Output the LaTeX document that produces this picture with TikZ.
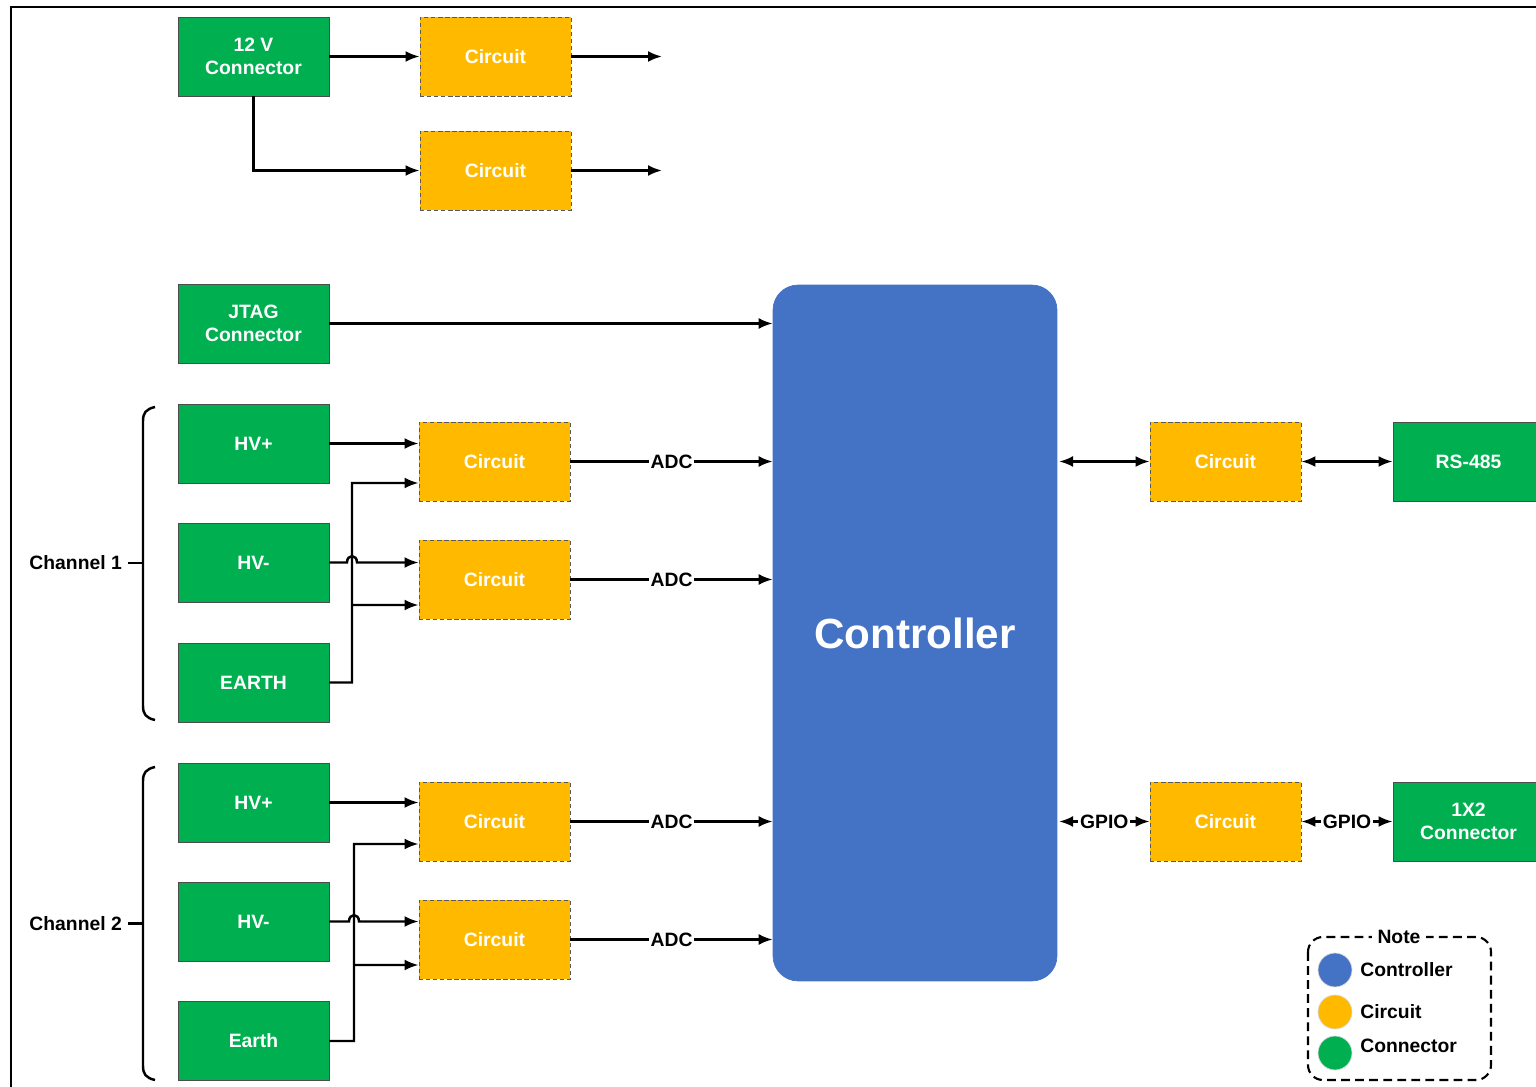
\documentclass[tikz,border=0pt]{standalone}
\usepackage{fontspec}
\setmainfont{Liberation Sans}
\usepackage{xcolor}
\usepackage{tikz}
\usetikzlibrary{positioning,calc,arrows.meta}

\definecolor{congreen}{HTML}{00B050}
\definecolor{cirgold}{HTML}{FFBA00}
\definecolor{ctrlblue}{HTML}{4472C4}

\begin{document}
\begin{tikzpicture}[x=0.02cm, y=-0.02cm]

\tikzstyle{every node}=[font=\fontsize{11}{13}\selectfont\bfseries]
\tikzstyle{conn}=[draw=black!70, line width=0.5pt, fill=congreen, text=white, minimum width=3.02cm, minimum height=1.58cm, align=center, inner sep=0]
\tikzstyle{circ}=[draw=black!65, dash pattern=on 2.5pt off 1.5pt, line width=0.5pt, fill=cirgold, text=white, minimum width=3.02cm, minimum height=1.58cm, inner sep=0]
\tikzstyle{arr}=[-{Latex[length=2.8mm,width=2.2mm]}, line width=1.4pt]
\tikzstyle{darr}=[{Latex[length=2.8mm,width=2.2mm]}-{Latex[length=2.8mm,width=2.2mm]}, line width=1.4pt]
\tikzstyle{lbl}=[fill=white, inner sep=1pt]

\clip (0,0) rectangle (1536,1087);

% frame %
\draw[line width=1.4pt] (11,1100) -- (11,7) -- (1550,7);

% nodes %
\node[conn] (v12) at (253.5,56.5) {12 V\\Connector};
\node[circ] (ct1) at (495.5,56.5) {Circuit};
\node[circ] (ct2) at (495.5,170.5) {Circuit};
\coordinate (o1) at (662,56.5);
\coordinate (o2) at (662,170.5);

\node[conn] (jtag) at (253.5,323.5) {JTAG\\Connector};

\node[draw=ctrlblue, fill=ctrlblue, rounded corners=0.5cm, minimum width=5.68cm, minimum height=13.92cm, text=white, font=\fontsize{24}{28}\selectfont\bfseries] (ctrl) at (915,633) {Controller};

\node[conn] (hvp1) at (253.5,443.5) {HV+};
\node[conn] (hvm1) at (253.5,562.5) {HV-};
\node[conn] (earth1) at (253.5,682.5) {EARTH};
\node[circ] (ca1) at (494.5,461.5) {Circuit};
\node[circ] (cb1) at (494.5,579.5) {Circuit};

\node[conn] (hvp2) at (253.5,802.5) {HV+};
\node[conn] (hvm2) at (253.5,921.5) {HV-};
\node[conn] (earth2) at (253.5,1041) {Earth};
\node[circ] (ca2) at (494.5,821.5) {Circuit};
\node[circ] (cb2) at (494.5,939.5) {Circuit};

\node[circ] (cr1) at (1225.5,461.5) {Circuit};
\node[conn] (rs) at (1468.5,461.5) {RS-485};
\node[circ] (cr2) at (1225.5,821.5) {Circuit};
\node[conn] (conx) at (1468.5,821.5) {1X2\\Connector};

\node[anchor=east] (ch1) at (128,563) {Channel 1};
\node[anchor=east] (ch2) at (128,923.5) {Channel 2};

% edges %
\draw[arr] (v12.east) -- (v12.east -| ct1.west);
\draw[arr] (v12.south) |- (ct2.west);
\draw[arr] (ct1.east) -- (o1);
\draw[arr] (ct2.east) -- (o2);

\draw[arr] (jtag.east) -- (jtag.east -| ctrl.west);

% channel 1
\draw[arr] (hvp1.east) -- (hvp1.east -| ca1.west);
\draw[arr] (hvm1.east) -- (347,562.5) .. controls (347,554) and (357,554) .. (357,562.5) -- (hvm1.east -| cb1.west);
\coordinate (j1) at (352,605);
\draw[arr] (earth1.east) -- (352,682.5) -- (352,483) -- ($(ca1.west)+(0,21.5)$);
\draw[arr] (j1) -- ($(cb1.west)+(0,25.5)$);
\draw[arr] (ca1.east) -- (ca1.east -| ctrl.west) node[lbl, midway] {ADC};
\draw[arr] (cb1.east) -- (cb1.east -| ctrl.west) node[lbl, midway] {ADC};

% channel 2
\draw[arr] (hvp2.east) -- (hvp2.east -| ca2.west);
\draw[arr] (hvm2.east) -- (349,921.5) .. controls (349,913) and (359,913) .. (359,921.5) -- (hvm2.east -| cb2.west);
\coordinate (j2) at (354,965);
\draw[arr] (earth2.east) -- (354,1041) -- (354,844) -- ($(ca2.west)+(0,22.5)$);
\draw[arr] (j2) -- ($(cb2.west)+(0,25.5)$);
\draw[arr] (ca2.east) -- (ca2.east -| ctrl.west) node[lbl, midway] {ADC};
\draw[arr] (cb2.east) -- (cb2.east -| ctrl.west) node[lbl, midway] {ADC};

% right side
\draw[darr] ([xshift=1pt]ctrl.east |- cr1.west) -- (cr1.west);
\draw[darr] (cr1.east) -- (rs.west);
\draw[darr] ([xshift=1pt]ctrl.east |- cr2.west) -- (cr2.west) node[lbl, midway] {GPIO};
\draw[darr] (cr2.east) -- (conx.west) node[lbl, midway] {GPIO};

% braces
\draw[line width=1.4pt] (155,407) .. controls (146,409) and (143,413) .. (143,421) -- (143,706) .. controls (143,714) and (146,718) .. (155,720);
\draw[line width=1.4pt] (ch1.east) -- (143,563);
\draw[line width=1.4pt] (155,767) .. controls (146,769) and (143,773) .. (143,781) -- (143,1066) .. controls (143,1074) and (146,1078) .. (155,1080);
\draw[line width=1.4pt] (ch2.east) -- (143,923.5);

% legend
\draw[dash pattern=on 5pt off 3pt, line width=1.2pt, rounded corners=0.3cm] (1308,937) rectangle (1491,1080);
\node[lbl, inner sep=3pt] (note) at (1399,937) {Note};
\node[circle, fill=ctrlblue, draw=black!15, minimum size=0.68cm, inner sep=0] (lc1) at (1335,970) {};
\node[circle, fill=cirgold, draw=black!15, minimum size=0.68cm, inner sep=0] (lc2) at (1335,1012) {};
\node[circle, fill=congreen, draw=black!15, minimum size=0.68cm, inner sep=0] (lc3) at (1335,1053) {};
\node[anchor=west, inner sep=0] (lt1) at (1360,970) {Controller};
\node[anchor=west, inner sep=0] (lt2) at (1360,1012) {Circuit};
\node[anchor=west, inner sep=0] (lt3) at (1360,1046) {Connector};

\end{tikzpicture}
\end{document}
